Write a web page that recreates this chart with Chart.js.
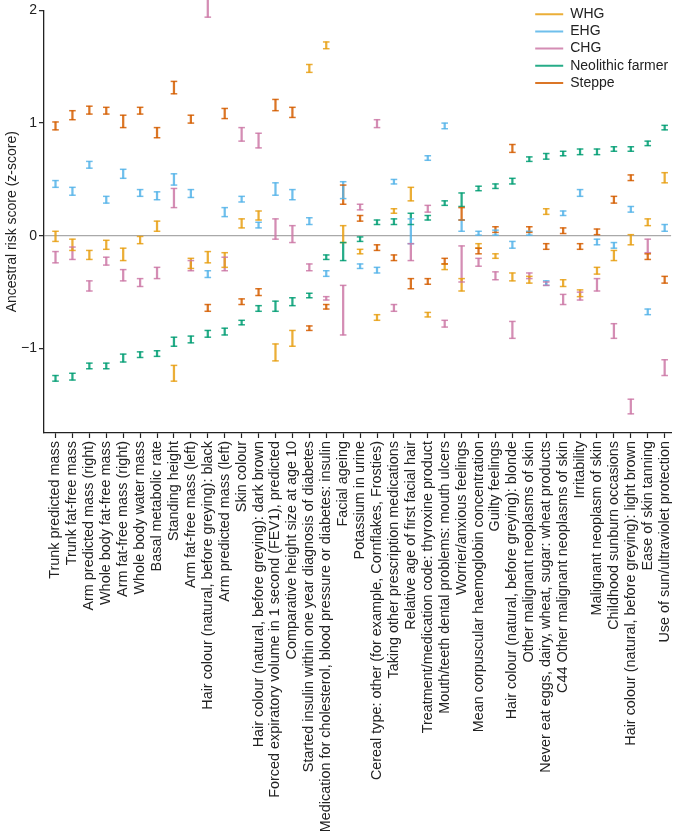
<!DOCTYPE html>
<html>
<head>
<meta charset="utf-8">
<script src="https://cdn.jsdelivr.net/npm/chart.js@4.4.1/dist/chart.umd.min.js"></script>
<style>
  html, body { margin: 0; padding: 0; background: #fff; }
</style>
</head>
<body>
<canvas id="chart" width="685" height="839"></canvas>
<script>
const traits = [
  "Trunk predicted mass",
  "Trunk fat-free mass",
  "Arm predicted mass (right)",
  "Whole body fat-free mass",
  "Arm fat-free mass (right)",
  "Whole body water mass",
  "Basal metabolic rate",
  "Standing height",
  "Arm fat-free mass (left)",
  "Hair colour (natural, before greying): black",
  "Arm predicted mass (left)",
  "Skin colour",
  "Hair colour (natural, before greying): dark brown",
  "Forced expiratory volume in 1 second (FEV1), predicted",
  "Comparative height size at age 10",
  "Started insulin within one year diagnosis of diabetes",
  "Medication for cholesterol, blood pressure or diabetes: insulin",
  "Facial ageing",
  "Potassium in urine",
  "Cereal type: other (for example, Cornflakes, Frosties)",
  "Taking other prescription medications",
  "Relative age of first facial hair",
  "Treatment/medication code: thyroxine product",
  "Mouth/teeth dental problems: mouth ulcers",
  "Worrier/anxious feelings",
  "Mean corpuscular haemoglobin concentration",
  "Guilty feelings",
  "Hair colour (natural, before greying): blonde",
  "Other malignant neoplasms of skin",
  "Never eat eggs, dairy, wheat, sugar: wheat products",
  "C44 Other malignant neoplasms of skin",
  "Irritability",
  "Malignant neoplasm of skin",
  "Childhood sunburn occasions",
  "Hair colour (natural, before greying): light brown",
  "Ease of skin tanning",
  "Use of sun/ultraviolet protection"
];

// [low, high] of each interval, one per trait
const whg = [
  [-0.05, 0.04], [-0.13, -0.03], [-0.21, -0.13], [-0.12, -0.04], [-0.22, -0.11],
  [-0.07, 0.00], [0.04, 0.13], [-1.29, -1.15], [-0.29, -0.20], [-0.24, -0.14],
  [-0.28, -0.15], [0.07, 0.15], [0.14, 0.22], [-1.11, -0.96], [-0.98, -0.84],
  [1.45, 1.52], [1.66, 1.72], [-0.06, 0.09], [-0.16, -0.12], [-0.75, -0.70],
  [0.20, 0.24], [0.31, 0.43], [-0.72, -0.68], [-0.30, -0.25], [-0.49, -0.38],
  [-0.11, -0.07], [-0.20, -0.16], [-0.40, -0.33], [-0.42, -0.36], [0.19, 0.24],
  [-0.45, -0.39], [-0.54, -0.48], [-0.34, -0.28], [-0.22, -0.13], [-0.08, 0.01],
  [0.09, 0.15], [0.47, 0.56]
];
const ehg = [
  [0.43, 0.49], [0.36, 0.43], [0.60, 0.66], [0.29, 0.35], [0.51, 0.59],
  [0.35, 0.41], [0.32, 0.39], [0.45, 0.55], [0.34, 0.41], [-0.37, -0.31],
  [0.17, 0.25], [0.30, 0.35], [0.07, 0.12], [0.36, 0.47], [0.32, 0.41],
  [0.10, 0.16], [-0.36, -0.31], [0.33, 0.48], [-0.29, -0.25], [-0.33, -0.28],
  [0.46, 0.50], [-0.07, 0.15], [0.67, 0.71], [0.95, 1.00], [0.04, 0.14],
  [0.00, 0.04], [0.00, 0.05], [-0.11, -0.05], [0.00, 0.04], [-0.44, -0.40],
  [0.18, 0.22], [0.35, 0.41], [-0.08, -0.03], [-0.11, -0.06], [0.21, 0.26],
  [-0.70, -0.65], [0.04, 0.10]
];
const chg = [
  [-0.24, -0.14], [-0.21, -0.10], [-0.49, -0.40], [-0.26, -0.19], [-0.40, -0.30],
  [-0.45, -0.38], [-0.38, -0.28], [0.25, 0.42], [-0.31, -0.22], [1.94, 2.10],
  [-0.31, -0.19], [0.84, 0.96], [0.78, 0.91], [-0.03, 0.15], [-0.06, 0.09],
  [-0.31, -0.25], [-0.57, -0.54], [-0.88, -0.44], [0.23, 0.28], [0.96, 1.03],
  [-0.67, -0.61], [-0.22, -0.07], [0.21, 0.27], [-0.81, -0.75], [-0.41, -0.09],
  [-0.27, -0.20], [-0.39, -0.32], [-0.91, -0.76], [-0.38, -0.33], [-0.44, -0.41],
  [-0.61, -0.52], [-0.57, -0.50], [-0.49, -0.38], [-0.91, -0.78], [-1.58, -1.45],
  [-0.15, -0.03], [-1.24, -1.10]
];
const neolithic = [
  [-1.29, -1.24], [-1.28, -1.22], [-1.18, -1.13], [-1.18, -1.13], [-1.12, -1.05],
  [-1.08, -1.03], [-1.07, -1.02], [-0.98, -0.90], [-0.95, -0.89], [-0.90, -0.84],
  [-0.88, -0.82], [-0.79, -0.75], [-0.67, -0.62], [-0.67, -0.58], [-0.62, -0.55],
  [-0.55, -0.51], [-0.21, -0.17], [-0.22, -0.06], [-0.05, -0.01], [0.10, 0.14],
  [0.10, 0.15], [0.10, 0.20], [0.14, 0.18], [0.27, 0.31], [0.26, 0.38],
  [0.40, 0.44], [0.42, 0.46], [0.46, 0.51], [0.66, 0.70], [0.68, 0.73],
  [0.71, 0.75], [0.72, 0.77], [0.72, 0.77], [0.75, 0.79], [0.75, 0.79],
  [0.80, 0.84], [0.94, 0.98]
];
const steppe = [
  [0.94, 1.01], [1.03, 1.11], [1.08, 1.15], [1.08, 1.14], [0.96, 1.07],
  [1.08, 1.14], [0.87, 0.96], [1.26, 1.37], [1.00, 1.07], [-0.67, -0.61],
  [1.04, 1.13], [-0.61, -0.56], [-0.53, -0.47], [1.11, 1.21], [1.05, 1.14],
  [-0.84, -0.80], [-0.65, -0.61], [0.28, 0.45], [0.13, 0.18], [-0.13, -0.08],
  [-0.22, -0.17], [-0.47, -0.38], [-0.43, -0.38], [-0.25, -0.20], [0.14, 0.25],
  [-0.16, -0.11], [0.03, 0.08], [0.74, 0.81], [0.03, 0.08], [-0.12, -0.07],
  [0.02, 0.07], [-0.12, -0.07], [0.01, 0.06], [0.29, 0.35], [0.49, 0.54],
  [-0.21, -0.16], [-0.42, -0.36]
];

const groupNames = ["WHG", "EHG", "CHG", "Neolithic farmer", "Steppe"];
const groupValues = [whg, ehg, chg, neolithic, steppe];
const groupColours = [
  "rgba(232,160,20,0.85)",
  "rgba(86,180,233,0.85)",
  "rgba(204,121,167,0.85)",
  "rgba(0,158,115,0.85)",
  "rgba(213,94,0,0.85)"
];

Chart.defaults.font.family = "'Liberation Sans', Arial, Helvetica, sans-serif";
Chart.defaults.font.size = 14;
Chart.defaults.color = "#222";

// little horizontal caps on the ends of each interval bar
const errorCaps = {
  id: "errorCaps",
  afterDatasetsDraw(chart) {
    const ctx = chart.ctx;
    ctx.save();
    chart.data.datasets.forEach((ds, i) => {
      const meta = chart.getDatasetMeta(i);
      ctx.strokeStyle = ds.backgroundColor;
      ctx.lineWidth = 1.5;
      meta.data.forEach(bar => {
        [bar.y, bar.base].forEach(py => {
          ctx.beginPath();
          ctx.moveTo(bar.x - 3.3, py);
          ctx.lineTo(bar.x + 3.3, py);
          ctx.stroke();
        });
      });
    });
    ctx.restore();
  }
};

// move the legend to the top right corner
const legendSpot = {
  id: "legendSpot",
  afterLayout(chart) {
    const lg = chart.legend;
    lg.left = 532;
    lg.right = lg.left + lg.width;
    lg.top = 4;
    lg.bottom = lg.top + lg.height;
  }
};

const datasets = groupNames.map((name, g) => ({
  label: name,
  data: groupValues[g].map((v, i) => ({ x: i, y: v })),
  backgroundColor: groupColours[g],
  borderWidth: 0,
  barThickness: 1.6,
  grouped: false,
  clip: false
}));

new Chart(document.getElementById("chart"), {
  type: "bar",
  data: { datasets },
  options: {
    responsive: false,
    animation: false,
    layout: { padding: { top: 10, right: 5, left: 0, bottom: 0 } },
    plugins: {
      tooltip: { enabled: false },
      legend: {
        position: "chartArea",
        align: "start",
        labels: {
          boxWidth: 28,
          boxHeight: 2,
          padding: 3.2,
          color: "#222",
          font: { size: 14 }
        }
      }
    },
    scales: {
      x: {
        type: "linear",
        min: -0.68,
        max: 36.38,
        offset: false,
        afterBuildTicks: s => { s.ticks = traits.map((t, i) => ({ value: i })); },
        afterFit: s => { s.height = 406; },
        ticks: {
          autoSkip: false,
          minRotation: 90,
          maxRotation: 90,
          padding: 3,
          color: "#222",
          font: { size: 14.4 },
          callback: v => traits[v]
        },
        grid: {
          offset: false,
          drawOnChartArea: false,
          drawTicks: true,
          tickLength: 5,
          tickColor: "#222",
          tickWidth: 1.2
        },
        border: { display: true, color: "#222", width: 1.3 }
      },
      y: {
        min: -1.75,
        max: 2,
        afterBuildTicks: s => { s.ticks = [-1, 0, 1, 2].map(v => ({ value: v })); },
        afterFit: s => { s.width = 44; },
        ticks: {
          padding: 2,
          color: "#222",
          font: { size: 14 },
          callback: v => (v < 0 ? "\u2212" + Math.abs(v) : String(v))
        },
        grid: {
          color: c => (c.tick && c.tick.value === 0 ? "#a9a9a9" : "rgba(0,0,0,0)"),
          lineWidth: 1.3,
          tickLength: 5,
          tickColor: "#222",
          tickWidth: 1.2
        },
        border: { display: true, color: "#222", width: 1.3 },
        title: {
          display: true,
          text: "Ancestral risk score (z-score)",
          color: "#222",
          font: { size: 14 },
          padding: { top: 4, bottom: 0 }
        }
      }
    }
  },
  plugins: [errorCaps, legendSpot]
});
</script>
</body>
</html>
